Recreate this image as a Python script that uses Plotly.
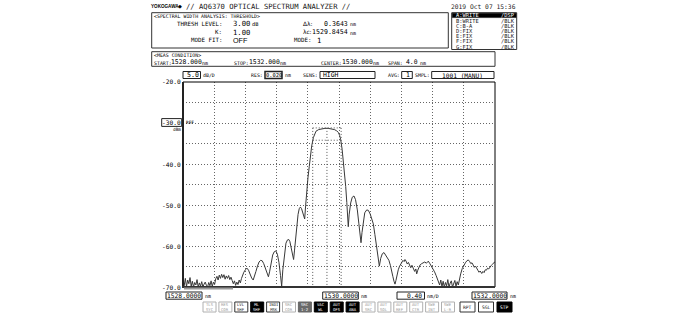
import plotly.graph_objects as go

# ---------------- data ----------------
wavelength_nm = [
    1528.000, 1528.015, 1528.030, 1528.045, 1528.060, 1528.075, 1528.090, 1528.105, 1528.120, 1528.135,
    1528.150, 1528.165, 1528.180, 1528.195, 1528.210, 1528.225, 1528.240, 1528.255, 1528.270, 1528.285,
    1528.300, 1528.315, 1528.330, 1528.345, 1528.360, 1528.375, 1528.390, 1528.405, 1528.420, 1528.435,
    1528.450, 1528.465, 1528.480, 1528.495, 1528.510, 1528.525, 1528.540, 1528.555, 1528.570, 1528.585,
    1528.600, 1528.615, 1528.630, 1528.645, 1528.660, 1528.675, 1528.690, 1528.705, 1528.720, 1528.735,
    1528.750, 1528.765, 1528.780, 1528.800, 1528.820, 1528.840, 1528.860, 1528.880, 1528.900, 1528.915,
    1528.935, 1528.955, 1528.975, 1528.995, 1529.015, 1529.035, 1529.055, 1529.075, 1529.095, 1529.110,
    1529.130, 1529.150, 1529.170, 1529.190, 1529.210, 1529.230, 1529.250, 1529.265, 1529.280, 1529.300,
    1529.320, 1529.340, 1529.355, 1529.370, 1529.390, 1529.405, 1529.418, 1529.430, 1529.445, 1529.460,
    1529.475, 1529.490, 1529.505, 1529.520, 1529.535, 1529.550, 1529.560, 1529.572, 1529.586, 1529.603,
    1529.619, 1529.635, 1529.650, 1529.671, 1529.690, 1529.705, 1529.740, 1529.780, 1529.820, 1529.860,
    1529.900, 1529.940, 1529.970, 1529.991, 1530.008, 1530.022, 1530.040, 1530.055, 1530.070, 1530.086,
    1530.100, 1530.112, 1530.119, 1530.130, 1530.150, 1530.170, 1530.192, 1530.212, 1530.235, 1530.255,
    1530.272, 1530.282, 1530.295, 1530.310, 1530.330, 1530.355, 1530.376, 1530.400, 1530.420, 1530.440,
    1530.460, 1530.480, 1530.500, 1530.517, 1530.535, 1530.555, 1530.577, 1530.600, 1530.620, 1530.640,
    1530.660, 1530.676, 1530.690, 1530.705, 1530.718, 1530.730, 1530.745, 1530.760, 1530.775, 1530.790,
    1530.805, 1530.820, 1530.835, 1530.846, 1530.860, 1530.875, 1530.890, 1530.905, 1530.920, 1530.935,
    1530.953, 1530.970, 1530.985, 1530.996, 1531.010, 1531.025, 1531.040, 1531.060, 1531.080, 1531.100,
    1531.120, 1531.145, 1531.165, 1531.185, 1531.205, 1531.225, 1531.245, 1531.260, 1531.275, 1531.290,
    1531.305, 1531.320, 1531.335, 1531.350, 1531.365, 1531.380, 1531.395, 1531.410, 1531.425, 1531.440,
    1531.455, 1531.470, 1531.485, 1531.500, 1531.515, 1531.530, 1531.545, 1531.560, 1531.580, 1531.600,
    1531.620, 1531.640, 1531.658, 1531.675, 1531.690, 1531.705, 1531.720, 1531.735, 1531.750, 1531.766,
    1531.780, 1531.795, 1531.810, 1531.830, 1531.845, 1531.860, 1531.875, 1531.890, 1531.905, 1531.920,
    1531.935, 1531.950, 1531.965, 1531.980, 1532.000,
]
power_dbm = [
    -68.4, -69.7, -67.9, -69.9, -68.3, -69.2, -67.7, -69.8, -68.6, -70.0,
    -68.9, -69.5, -68.2, -70.0, -69.0, -69.8, -68.7, -70.0, -69.3, -68.8,
    -69.6, -70.0, -68.9, -69.7, -68.5, -69.9, -68.8, -69.4, -68.0, -67.4,
    -68.3, -67.1, -67.9, -66.9, -67.7, -67.0, -68.1, -67.3, -67.9, -67.2,
    -68.2, -67.6, -68.4, -69.2, -68.5, -69.6, -68.8, -69.4, -68.3, -69.0,
    -67.9, -67.0, -66.4, -65.8, -65.4, -65.9, -66.9, -67.8, -68.3, -67.6,
    -66.2, -64.9, -63.9, -63.5, -63.6, -64.3, -65.5, -66.8, -67.5, -66.3,
    -64.0, -62.2, -61.4, -61.2, -62.0, -64.0, -67.2, -69.8, -65.8, -61.6,
    -59.3, -58.5, -58.4, -58.9, -60.6, -62.4, -63.3, -61.0, -57.6, -54.6,
    -52.3, -50.9, -50.5, -50.9, -52.0, -53.3, -53.4, -50.2, -46.3, -43.2,
    -40.6, -37.8, -35.6, -33.6, -32.5, -32.0, -31.6, -31.4, -31.3, -31.3,
    -31.4, -31.6, -31.9, -32.3, -33.0, -34.1, -36.4, -39.1, -42.0, -45.5,
    -49.4, -53.0, -55.3, -52.4, -49.5, -48.1, -47.8, -48.7, -51.2, -54.6,
    -57.9, -59.2, -56.7, -53.9, -51.9, -51.2, -51.3, -52.2, -53.5, -54.6,
    -57.2, -60.4, -63.6, -64.9, -63.0, -61.9, -61.6, -62.3, -62.9, -63.5,
    -64.8, -65.9, -67.4, -68.6, -69.3, -68.4, -66.9, -65.8, -65.0, -64.6,
    -63.9, -63.5, -63.8, -63.3, -63.7, -64.4, -64.0, -64.9, -65.3, -64.7,
    -65.4, -66.2, -65.6, -66.8, -65.9, -65.1, -64.6, -64.3, -64.0, -63.9,
    -64.2, -63.7, -64.3, -64.9, -65.4, -66.3, -67.2, -68.0, -68.7, -69.5,
    -68.3, -69.9, -68.6, -70.0, -68.9, -69.7, -68.2, -70.0, -69.1, -68.5,
    -70.0, -69.0, -68.4, -69.8, -68.7, -69.5, -67.9, -66.8, -65.5, -64.7,
    -64.1, -63.6, -63.4, -63.8, -64.3, -64.1, -64.8, -65.2, -64.9, -65.6,
    -65.9, -66.4, -66.1, -66.7, -66.2, -66.5, -65.8, -65.9, -65.4, -65.6,
    -65.0, -64.8, -64.5, -64.1, -63.8,
]

start_nm, stop_nm, div_nm = 1528.0, 1532.0, 0.4
top_dbm, bottom_dbm, div_db = -20.0, -70.0, 5.0
ref_dbm = -30.0
ylabel_vals = [-20.0, -40.0, -50.0, -60.0, -70.0]
ylabel_text = ["-20.0", "-40.0", "-50.0", "-60.0", "-70.0"]

lambda_c_nm = 1529.8454
delta_lambda_nm = 0.3643
thresh_db = 3.00
peak_dbm = -31.2

trace_rows = [("A:WRITE", "/DSP"), ("B:WRITE", "/BLK"), ("C:B-A", "/BLK"), ("D:FIX", "/BLK"),
              ("E:FIX", "/BLK"), ("F:FIX", "/BLK"), ("G:FIX", "/BLK")]
soft_keys = [("TLS<br>SYC", "light"), ("RES<br>COR", "light"), ("LVL<br>SHF", "normal"),
             ("ML<br>SHF", "dark"), ("INDI<br>MSK", "normal"), ("SRC<br>COR", "light"),
             ("SRC<br>1-2", "gray"), ("VAC<br>WL", "dark"), ("AUT<br>OFS", "dark"),
             ("AUT<br>ANA", "dark"), ("AUT<br>SRC", "light"), ("AUT<br>SOL", "light"),
             ("AUT<br>REF", "light"), ("AUT<br>CTR", "light"), ("SWE<br>INT", "light"),
             ("SWE<br>L-R", "light")]
run_keys = [("RPT", "normal"), ("SGL", "normal"), ("STP", "dark")]

# ---------------- layout helpers ----------------
W, H = 682, 315
MONO = "DejaVu Sans Mono"
SANS = "Liberation Sans"
L, R, T_, B = 183, 495, 82, 287

annotations = []
shapes = []


def px(x):
    return x / W


def py(y):
    return 1 - y / H


def text(x, y, s, size=6, anchor="left", color="black", family=MONO, yref="paper"):
    annotations.append(dict(
        xref="paper", yref=yref, x=px(x), y=(py(y) if yref == "paper" else y),
        text=s, showarrow=False, xanchor=anchor, yanchor="middle", borderpad=0,
        font=dict(size=size, color=color, family=family)))


def rect(x0, y0, x1, y1, color="black", width=1, fill=None):
    shapes.append(dict(type="rect", xref="paper", yref="paper",
                       x0=px(x0), x1=px(x1), y0=py(y0), y1=py(y1),
                       line=dict(color=color, width=width),
                       fillcolor=fill if fill else "rgba(0,0,0,0)"))


def hline(x0, x1, y, color="black", width=1):
    shapes.append(dict(type="line", xref="paper", yref="paper",
                       x0=px(x0), x1=px(x1), y0=py(y), y1=py(y),
                       line=dict(color=color, width=width)))


def vline(x, y0, y1, color="black", width=1):
    shapes.append(dict(type="line", xref="paper", yref="paper",
                       x0=px(x), x1=px(x), y0=py(y0), y1=py(y1),
                       line=dict(color=color, width=width)))


# ---------------- figure ----------------
fig = go.Figure()
fig.add_trace(go.Scatter(x=wavelength_nm, y=power_dbm, mode="lines",
                         line=dict(color="#383838", width=1), hoverinfo="skip"))

DOT = "1px,2px"
# threshold analysis markers (data coords)
xl = lambda_c_nm - delta_lambda_nm / 2
xr = lambda_c_nm + delta_lambda_nm / 2
for (x0, x1, y0, y1) in [(xl, xr, peak_dbm, peak_dbm),
                         (xl, xr, peak_dbm - thresh_db, peak_dbm - thresh_db),
                         (xl, xl, peak_dbm, bottom_dbm),
                         (lambda_c_nm, lambda_c_nm, peak_dbm, bottom_dbm),
                         (xr, xr, peak_dbm, bottom_dbm)]:
    shapes.append(dict(type="line", xref="x", yref="y", x0=x0, x1=x1, y0=y0, y1=y1,
                       line=dict(color="#555", width=1, dash=DOT)))

# plot frame
rect(L, T_, R, B, color="black", width=1)
vline(L, T_, B + 1, color="#222", width=2)
hline(L - 1, R, B, color="#333", width=2)
hline(184, 233, 288.6, color="#9a9a9a", width=2)

# header
text(149.5, 6, "<b>YOKOGAWA</b>", size=4.6, family=SANS)
text(177, 6, "◆", size=5.0, family="DejaVu Sans")
text(184.5, 6, "// AQ6370 OPTICAL SPECTRUM ANALYZER //", size=7.2, color="#222")
text(517, 6, "2019 Oct 07 15:36", size=6.3, anchor="right", color="#222")

# spectral width analysis box
rect(151.7, 12.7, 448.3, 48, color="#333", width=1)
text(153, 15.5, "&lt;SPECTRAL WIDTH ANALYSIS: THRESHOLD&gt;", size=4.9)
text(223, 24, "THRESH LEVEL:", size=5.8, anchor="right")
text(232, 24, "%.2f" % thresh_db, size=7.2)
text(250.5, 24.5, "dB", size=5.3)
text(223, 32.3, "K:", size=5.8, anchor="right")
text(232, 32.3, "1.00", size=7.2)
text(223, 40.3, "MODE FIT:", size=5.8, anchor="right")
text(232, 40.3, "OFF", size=7.2, family=SANS)
text(313, 24, "Δλ:", size=5.8, anchor="right", family="DejaVu Sans")
text(349, 24, "%.4f" % delta_lambda_nm, size=6.6, anchor="right")
text(349, 24.5, "nm", size=5.0)
text(313, 32.3, "λc:", size=5.8, anchor="right", family="DejaVu Sans")
text(349, 32.3, "%.4f" % lambda_c_nm, size=6.6, anchor="right")
text(349, 32.8, "nm", size=5.0)
text(312, 40.3, "MODE:", size=5.8, anchor="right")
text(316, 40.3, "1", size=7.2)

# trace list box
rect(451.7, 12.7, 516.7, 49.5, color="#333", width=1)
rect(452.3, 13.2, 516.1, 17.6, color="#000", width=0.5, fill="#000")
for i, (a, b) in enumerate(trace_rows):
    yy = 15.4 + i * 5.2
    c = "white" if i == 0 else "#222"
    text(455, yy, a, size=5.4, color=c)
    text(500, yy, b, size=5.4, color=c)

# meas condition box
rect(151.7, 51.7, R, 66.3, color="#333", width=1)
text(153, 55.3, "&lt;MEAS CONDITION&gt;", size=4.9)
text(152.5, 62.6, "START:", size=4.9)
text(170, 62.3, "%.3f" % start_nm, size=6.4)
text(200.5, 62.8, "nm", size=5.0)
text(233, 62.6, "STOP:", size=4.9)
text(248, 62.3, "%.3f" % stop_nm, size=6.4)
text(278.5, 62.8, "nm", size=5.0)
text(320, 62.6, "CENTER:", size=4.9)
text(341, 62.3, "%.3f" % ((start_nm + stop_nm) / 2), size=6.4)
text(371.5, 62.8, "nm", size=5.0)
text(387, 62.6, "SPAN:", size=4.9)
text(419, 62.3, "%.1f" % (stop_nm - start_nm), size=6.4, anchor="right")
text(419, 62.8, "nm", size=5.0)

# settings row
rect(183, 71.5, 200.5, 78.5, color="#222", width=1)
text(199.5, 75, "%.1f" % div_db, size=6.6, anchor="right")
text(202, 75.2, "dB/D", size=4.9)
text(264, 75.2, "RES:", size=4.9, anchor="right")
rect(265, 71.5, 282, 78.5, color="#222", width=1.5)
text(273.5, 75, "0.020", size=5.4, anchor="center")
text(283.5, 75.4, "nm", size=4.9)
text(319, 75.2, "SENS:", size=4.9, anchor="right")
rect(320, 71.5, 375, 78.5, color="#222", width=1)
text(321.5, 75, "HIGH", size=6.4)
text(400.5, 75.2, "AVG:", size=4.9, anchor="right")
rect(401.7, 71.5, 412.3, 78.5, color="#222", width=1)
text(411.3, 75, "1", size=6.4, anchor="right")
text(431, 75.2, "SMPL:", size=4.9, anchor="right")
rect(431.7, 71.5, 494, 78.5, color="#222", width=1)
text(463, 75, "1001 (MANU)", size=6.2, anchor="center")

# y labels
for v, s in zip(ylabel_vals, ylabel_text):
    text(181.5, v, s, size=6.2, anchor="right", yref="y")
rect(161.7, 118.6, 181.7, 126.4, color="#222", width=1)
text(171.7, ref_dbm, "%.1f" % ref_dbm, size=6.2, anchor="center", yref="y")
text(185, ref_dbm, "REF", size=4.4, yref="y")
text(182, 129.6, "dBm", size=4.4, anchor="right")

# bottom value row
rect(166, 292, 202, 299.2, color="#222", width=1)
text(184, 295.6, "%.4f" % start_nm, size=6.3, anchor="center")
text(203.5, 296, "nm", size=4.9)
rect(322.7, 292, 358.3, 299.2, color="#222", width=1)
text(340.5, 295.6, "%.4f" % ((start_nm + stop_nm) / 2), size=6.3, anchor="center")
text(359.5, 296, "nm", size=4.9)
rect(397, 292, 424.5, 299.2, color="#222", width=1)
text(423, 295.6, "%.2f" % div_nm, size=6.3, anchor="right")
text(426, 296, "nm/D", size=4.9)
rect(472, 292, 507, 299.2, color="#222", width=1)
text(489.5, 295.6, "%.4f" % stop_nm, size=6.3, anchor="center")
text(508.5, 296, "nm", size=4.9)

# soft keys
STY = {"light": ("#b0b0b0", "white", "#9a9a9a"),
       "normal": ("#333", "white", "#222"),
       "dark": ("#000", "#000", "white"),
       "gray": ("#666", "#6a6a6a", "white")}
for i, (lab, st) in enumerate(soft_keys):
    x0 = 203 + i * 15.9
    bc, fc, tc = STY[st]
    rect(x0, 302, x0 + 13, 312, color=bc, width=1, fill=fc)
    text(x0 + 6.5, 307, lab, size=3.9, anchor="center", color=tc)
for i, (lab, st) in enumerate(run_keys):
    x0 = 460 + i * 18.5
    bc, fc, tc = STY[st]
    rect(x0, 302, x0 + 15, 312, color=bc, width=1, fill=fc)
    text(x0 + 7.5, 307, lab, size=4.6, anchor="center", color=tc)

axis_common = dict(showgrid=True, gridcolor="#666", gridwidth=1, griddash=DOT,
                   showticklabels=False, zeroline=False, ticks="", showline=False,
                   fixedrange=True)
fig.update_layout(
    width=W, height=H, margin=dict(l=0, r=0, t=0, b=0),
    paper_bgcolor="white", plot_bgcolor="white", showlegend=False,
    xaxis=dict(domain=[px(L), px(R)], range=[start_nm, stop_nm], tick0=start_nm,
               dtick=div_nm, **axis_common),
    yaxis=dict(domain=[py(B), py(T_)], range=[bottom_dbm, top_dbm], tick0=bottom_dbm,
               dtick=div_db, **axis_common),
    annotations=annotations, shapes=shapes,
)
fig.write_html("out.html")
